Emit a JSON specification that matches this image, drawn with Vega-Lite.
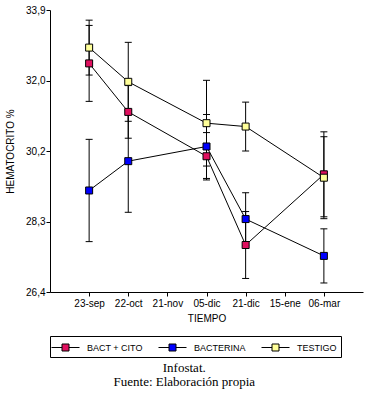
{
  "$schema": "https://vega.github.io/schema/vega-lite/v6.json",
  "width": 313,
  "height": 282,
  "padding": {"left": 5, "top": 5, "right": 5, "bottom": 3},
  "background": "white",
  "data": {
    "values": [
      {"fecha": "23-sep", "serie": "BACT + CITO", "valor": 32.48, "ee": 1.01},
      {"fecha": "22-oct", "serie": "BACT + CITO", "valor": 31.19, "ee": 0.70},
      {"fecha": "05-dic", "serie": "BACT + CITO", "valor": 30.01, "ee": 0.63},
      {"fecha": "21-dic", "serie": "BACT + CITO", "valor": 27.65, "ee": 0.89},
      {"fecha": "06-mar", "serie": "BACT + CITO", "valor": 29.53, "ee": 1.13},
      {"fecha": "23-sep", "serie": "BACTERINA", "valor": 29.10, "ee": 1.36},
      {"fecha": "22-oct", "serie": "BACTERINA", "valor": 29.88, "ee": 1.36},
      {"fecha": "05-dic", "serie": "BACTERINA", "valor": 30.27, "ee": 0.85},
      {"fecha": "21-dic", "serie": "BACTERINA", "valor": 28.34, "ee": 0.70},
      {"fecha": "06-mar", "serie": "BACTERINA", "valor": 27.36, "ee": 0.72},
      {"fecha": "23-sep", "serie": "TESTIGO", "valor": 32.90, "ee": 0.73},
      {"fecha": "22-oct", "serie": "TESTIGO", "valor": 31.99, "ee": 1.05},
      {"fecha": "05-dic", "serie": "TESTIGO", "valor": 30.89, "ee": 1.14},
      {"fecha": "21-dic", "serie": "TESTIGO", "valor": 30.80, "ee": 0.65},
      {"fecha": "06-mar", "serie": "TESTIGO", "valor": 29.44, "ee": 1.09}
    ]
  },
  "encoding": {
    "x": {
      "field": "fecha",
      "type": "ordinal",
      "scale": {"type": "point", "padding": 1, "domain": ["23-sep", "22-oct", "21-nov", "05-dic", "21-dic", "15-ene", "06-mar"]},
      "axis": {"title": "TIEMPO", "labelAngle": 0, "tickSize": 4, "labelPadding": 2, "titlePadding": 5}
    }
  },
  "layer": [
    {
      "mark": {"type": "errorbar", "ticks": {"size": 7, "thickness": 1, "color": "black", "opacity": 1}, "rule": {"color": "black", "strokeWidth": 1, "opacity": 1}},
      "encoding": {
        "y": {
          "field": "valor",
          "type": "quantitative",
          "scale": {"domain": [26.4, 33.9], "nice": false, "zero": false},
          "axis": {
            "title": "HEMATOCRITO %",
            "values": [26.4, 28.275, 30.15, 32.025, 33.9],
            "labelExpr": "replace(format(datum.value + 0.0001, '.1f'), '.', ',')",
            "tickSize": 4,
            "labelPadding": 1,
            "titlePadding": 10,
            "grid": false
          }
        },
        "yError": {"field": "ee"},
        "detail": {"field": "serie"}
      }
    },
    {
      "mark": {"type": "line", "color": "black", "strokeWidth": 1, "opacity": 1},
      "encoding": {
        "y": {"field": "valor", "type": "quantitative"},
        "detail": {"field": "serie"},
        "order": {"value": null}
      }
    },
    {
      "mark": {"type": "point", "shape": "square", "filled": true, "size": 49, "stroke": "black", "strokeWidth": 1, "opacity": 1},
      "encoding": {
        "y": {"field": "valor", "type": "quantitative"},
        "fill": {
          "field": "serie",
          "type": "nominal",
          "scale": {"domain": ["BACT + CITO", "BACTERINA", "TESTIGO"], "range": ["#E0105F", "#0000FF", "#FFFF99"]},
          "legend": {
            "title": null,
            "orient": "bottom",
            "direction": "horizontal",
            "columns": 3,
            "gridAlign": "each",
            "symbolType": "M-2,0H-0.5M0.5,0H2M-0.5,-0.5H0.5V0.5H-0.5Z",
            "symbolSize": 196,
            "symbolStrokeColor": "black",
            "symbolStrokeWidth": 1,
            "symbolOffset": 4,
            "labelOffset": 14,
            "columnPadding": 13,
            "padding": 4,
            "strokeColor": "black",
            "fillColor": "white",
            "offset": 13,
            "labelFontSize": 9,
            "labelFont": "Liberation Sans",
            "labelColor": "black"
          }
        }
      }
    }
  ],
  "title": {
    "text": "Infostat.",
    "subtitle": "Fuente: Elaboración propia",
    "orient": "bottom",
    "anchor": "middle",
    "frame": "bounds",
    "offset": 4,
    "font": "Liberation Serif",
    "fontSize": 13,
    "fontWeight": "normal",
    "color": "black",
    "subtitleFont": "Liberation Serif",
    "subtitleFontSize": 13,
    "subtitleColor": "black",
    "subtitlePadding": 1
  },
  "config": {
    "view": {"stroke": null},
    "axis": {
      "labelFont": "Liberation Sans",
      "labelFontSize": 10,
      "labelColor": "black",
      "titleFont": "Liberation Sans",
      "titleFontSize": 10,
      "titleFontWeight": "normal",
      "titleColor": "black",
      "domainColor": "black",
      "tickColor": "black"
    }
  }
}
